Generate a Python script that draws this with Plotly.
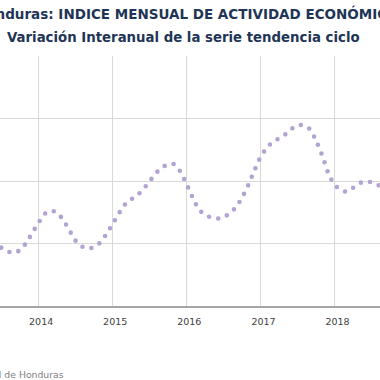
import plotly.graph_objects as go
import pandas as pd

# Monthly dates (Jun 2013 .. Sep 2018)
months = pd.date_range("2013-06-01", "2018-09-01", freq="MS")

# Year-on-year variation of trend-cycle series (%)
values = [3.04, 2.94, 2.88, 2.85, 2.89, 3.00, 3.16,
          3.32, 3.47, 3.52, 3.50, 3.39, 3.23, 3.06, 2.96, 2.92, 2.94, 3.01, 3.14,
          3.30, 3.47, 3.61, 3.70, 3.76, 3.86, 3.98, 4.11, 4.21, 4.26, 4.27, 4.16,
          3.96, 3.74, 3.56, 3.46, 3.42, 3.40, 3.42, 3.48, 3.58, 3.73, 3.93, 4.16,
          4.38, 4.53, 4.62, 4.68, 4.74, 4.83, 4.89, 4.89, 4.83, 4.65, 4.41, 4.13,
          3.94, 3.86, 3.83, 3.89, 3.96, 3.99, 3.98, 3.94, 3.89]

tick_vals = ["2014-01-01", "2015-01-01", "2016-01-01", "2017-01-01", "2018-01-01"]
tick_text = ["2014", "2015", "2016", "2017", "2018"]

title_text = "Honduras: INDICE MENSUAL DE ACTIVIDAD ECONÓMICA"
subtitle_text = "Variación Interanual de la serie tendencia ciclo"
source_text = "Fuente: Banco Central de Honduras"

fig = go.Figure()
fig.add_trace(go.Scatter(
    x=list(months[:len(values)]), y=values, mode="lines",
    line=dict(color="#B3A3D3", width=4.6, dash="0px,9.3px", shape="spline"),
    hoverinfo="skip", cliponaxis=False,
))

H = 250.5
fig.update_layout(
    width=380, height=380,
    margin=dict(l=0, r=0, t=56, b=73.5),
    paper_bgcolor="white", plot_bgcolor="white",
    showlegend=False,
    font=dict(family="DejaVu Sans", color="#404040"),
    xaxis=dict(
        range=["2013-06-27", "2018-08-13"],
        tickvals=tick_vals, ticktext=tick_text,
        showgrid=True, gridcolor="#D9D9D9", gridwidth=1,
        showline=True, linecolor="#A6A6A6", linewidth=1.5,
        ticks="", tickfont=dict(size=9.5, color="#404040", family="DejaVu Sans"),
        ticklabelshift=3, ticklabelstandoff=6,
        zeroline=False,
    ),
    yaxis=dict(
        range=[2, 6], dtick=1,
        showgrid=True, gridcolor="#D9D9D9", gridwidth=1,
        showticklabels=False, zeroline=False, showline=False,
    ),
    annotations=[
        dict(text="<b>" + title_text + "</b>", xref="paper", yref="paper",
             x=186 / 380, y=(306.5 - 13) / H, xanchor="center", yanchor="middle",
             showarrow=False, font=dict(size=13.5, color="#1F3556", family="DejaVu Sans")),
        dict(text="<b>" + subtitle_text + "</b>", xref="paper", yref="paper",
             x=183 / 380, y=(306.5 - 37) / H, xanchor="center", yanchor="middle",
             showarrow=False, font=dict(size=13.3, color="#1F3556", family="DejaVu Sans")),
        dict(text=source_text, xref="paper", yref="paper",
             x=66 / 380, y=(306.5 - 375) / H, xanchor="right", yanchor="middle",
             showarrow=False, font=dict(size=9.3, color="#7F7F7F", family="DejaVu Sans")),
    ],
)

post = """
document.body.style.margin = '0';
document.body.style.overflow = 'hidden';
var fix = function(){
  document.querySelectorAll('.js-line').forEach(function(p){
    p.style.strokeLinecap = 'round';
  });
};
fix();
var gd = document.querySelector('.plotly-graph-div');
if (gd && gd.on) { gd.on('plotly_afterplot', fix); }
"""

fig.write_html("out.html", config={"displayModeBar": False}, post_script=post)
